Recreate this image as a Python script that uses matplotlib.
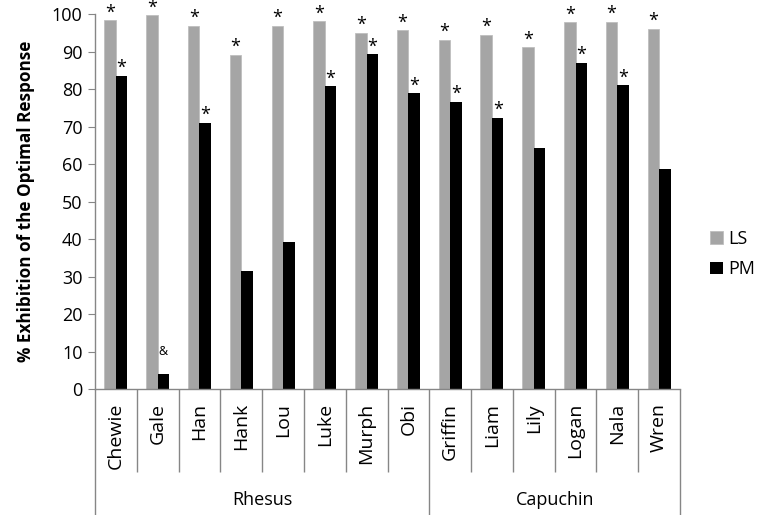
import matplotlib
matplotlib.use("Agg")
import matplotlib.pyplot as plt
import numpy as np

plt.rcParams['font.family'] = ['Open Sans', 'DejaVu Sans']

subjects = ["Chewie", "Gale", "Han", "Hank", "Lou", "Luke", "Murph", "Obi",
            "Griffin", "Liam", "Lily", "Logan", "Nala", "Wren"]
groups = ["Rhesus", "Capuchin"]
group_sizes = [8, 6]
ls_values = [98.3, 99.7, 96.8, 89.1, 96.8, 98.1, 95.0, 95.7,
             93.2, 94.5, 91.1, 97.8, 98.0, 96.0]
pm_values = [83.6, 4.0, 71.0, 31.5, 39.3, 80.7, 89.3, 78.9,
             76.6, 72.3, 64.3, 87.0, 81.0, 58.7]
ls_marks = ["*"] * 14
pm_marks = ["*", "&", "*", "", "", "*", "*", "*",
            "*", "*", "", "*", "*", ""]
yticks = list(range(0, 101, 10))

GRAY = "#A5A5A5"
AXC = "#868686"

fig = plt.figure(figsize=(7.62, 5.15), dpi=100)
ax = fig.add_axes([95/762, 1-389.3/515, (680-95)/762, (389.3-14)/515])

x = np.arange(len(subjects))
w = 0.275
ax.bar(x - w/2, ls_values, w, color=GRAY, edgecolor="#BFBFBF", linewidth=0.6, label="LS")
ax.bar(x + w/2, pm_values, w, color="black", label="PM")

for xi, v, m in zip(x, ls_values, ls_marks):
    if m:
        ax.annotate(m, (xi - w/2, v), xytext=(0, 2), textcoords="offset points",
                    ha="center", va="baseline", fontsize=13, color="black",
                    annotation_clip=False)
for xi, v, m in zip(x, pm_values, pm_marks):
    if m == "*":
        ax.annotate(m, (xi + w/2, v), xytext=(0, 2), textcoords="offset points",
                    ha="center", va="baseline", fontsize=13, color="black",
                    annotation_clip=False)
    elif m:
        ax.annotate(m, (xi + w/2, v), xytext=(0, 12), textcoords="offset points",
                    ha="center", va="bottom", fontsize=9, color="black")

ax.set_xlim(-0.5, len(subjects) - 0.5)
ax.set_ylim(0, 100)
ax.set_yticks(yticks)
ax.tick_params(axis="y", direction="out", length=5, color=AXC, labelsize=13, pad=4)
ax.tick_params(axis="x", bottom=False, labelbottom=False)
for s in ["top", "right"]:
    ax.spines[s].set_visible(False)
for s in ["left", "bottom"]:
    ax.spines[s].set_color(AXC)
    ax.spines[s].set_linewidth(1.0)

ax.set_ylabel("% Exhibition of the Optimal Response", fontsize=12.3,
              fontweight="bold", labelpad=12)

trans = ax.get_xaxis_transform()
axh = 389.3 - 14
short_end = -(471.7 - 389.3) / axh
long_end = -(515 - 389.3) / axh
label_top = -(403 - 389.3) / axh
group_y = -(500 - 389.3) / axh

bounds = [0]
for g in group_sizes:
    bounds.append(bounds[-1] + g)
for k in range(len(subjects) + 1):
    xb = k - 0.5
    yend = long_end if k in bounds else short_end
    ax.plot([xb, xb], [0, yend], transform=trans, color=AXC, lw=1.0,
            clip_on=False, solid_capstyle="butt")

for xi, name in zip(x, subjects):
    ax.text(xi, label_top, name, transform=trans, rotation=90, ha="center",
            va="top", fontsize=14)

for gi, g in enumerate(groups):
    c = (bounds[gi] + bounds[gi+1] - 1) / 2
    ax.text(c, group_y, g, transform=trans, ha="center", va="center", fontsize=13)

leg = ax.legend(loc="center left", bbox_to_anchor=(703/762, 1-254/515),
                bbox_transform=fig.transFigure, frameon=False, fontsize=13,
                handlelength=0.7, handleheight=0.7, handletextpad=0.3,
                labelspacing=0.7, borderaxespad=0)

fig.savefig("out.png", dpi=100)
